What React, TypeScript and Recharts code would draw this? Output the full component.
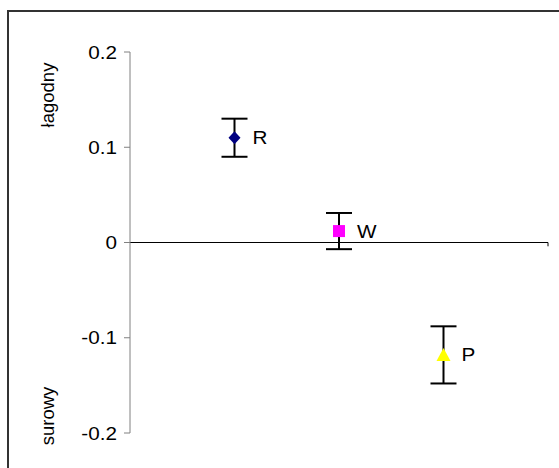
import React from "react";
import { ScatterChart, Scatter, XAxis, YAxis, ErrorBar, ReferenceLine } from "recharts";

// series: one point per category, mean with +/- error
const names = ["R", "W", "P"];
const xSlots = [1, 2, 3];
const means = [0.11, 0.012, -0.118];
const errors = [0.02, 0.019, 0.03];
const colors = ["#000080", "#FF00FF", "#FFFF00"];

// y axis
const yTicks = [-0.2, -0.1, 0, 0.1, 0.2];
const yTickLabels = ["-0.2", "-0.1", "0", "0.1", "0.2"];
const topLabel = "łagodny";
const bottomLabel = "surowy";

const FONT = "'Liberation Sans', Arial, sans-serif";
const SX = 1.15; // text looks a bit wide in the original

const data = names.map((name, i) => ({ name, idx: i, x: xSlots[i], y: means[i], err: errors[i] }));

function Marker(props: any) {
  const { cx, cy, payload } = props;
  const i = payload.idx;
  const c = colors[i];
  let mark;
  if (i === 0) {
    mark = <polygon points={`${cx},${cy - 6.5} ${cx + 6},${cy} ${cx},${cy + 6.5} ${cx - 6},${cy}`} fill={c} />;
  } else if (i === 1) {
    mark = <rect x={cx - 6} y={cy - 6} width={12} height={12} fill={c} />;
  } else {
    mark = <polygon points={`${cx},${cy - 7} ${cx + 7},${cy + 6} ${cx - 7},${cy + 6}`} fill={c} />;
  }
  return (
    <g>
      {mark}
      <text
        transform={`translate(${cx + 18},${cy + 6.5}) scale(${SX},1)`}
        fontSize={18}
        fontFamily={FONT}
        fill="#000"
      >
        {payload.name}
      </text>
    </g>
  );
}

function YTick({ x, y, payload }: any) {
  const i = yTicks.indexOf(payload.value);
  return (
    <text
      transform={`translate(${x},${y + 6.5}) scale(${SX},1)`}
      textAnchor="end"
      fontSize={18}
      fontFamily={FONT}
      fill="#000"
    >
      {yTickLabels[i]}
    </text>
  );
}

export default function App() {
  return (
    <div style={{ position: "absolute", left: 0, top: 0, width: 559, height: 468, overflow: "hidden", background: "#fff" }}>
      <div
        style={{
          position: "absolute",
          left: 7,
          top: 10,
          width: 600,
          height: 500,
          borderLeft: "2px solid #333",
          borderTop: "2px solid #333",
        }}
      />
      <div style={{ position: "absolute", left: 0, top: 0 }}>
        <ScatterChart width={559} height={468} margin={{ top: 52, right: 11, bottom: 35, left: 70 }}>
          <XAxis type="number" dataKey="x" domain={[0, 4]} hide />
          <YAxis
            type="number"
            dataKey="y"
            domain={[-0.2, 0.2]}
            ticks={yTicks}
            width={60}
            tickSize={6}
            tickMargin={7}
            stroke="#808080"
            tick={<YTick />}
          />
          <ReferenceLine y={0} stroke="#000" strokeWidth={1.2} />
          <ReferenceLine segment={[{ x: 4, y: 0 }, { x: 4, y: -0.004 }]} stroke="#000" />
          <Scatter data={data} shape={<Marker />} isAnimationActive={false}>
            <ErrorBar dataKey="err" direction="y" width={13} stroke="#000" strokeWidth={2} />
          </Scatter>
        </ScatterChart>
      </div>
      <svg width={559} height={468} style={{ position: "absolute", left: 0, top: 0, pointerEvents: "none" }}>
        <text transform="translate(54,95) rotate(-90)" textAnchor="middle" fontSize={18.5} fontFamily={FONT} fill="#000">
          {topLabel}
        </text>
        <text transform="translate(54,416) rotate(-90)" textAnchor="middle" fontSize={18.5} fontFamily={FONT} fill="#000">
          {bottomLabel}
        </text>
      </svg>
    </div>
  );
}
